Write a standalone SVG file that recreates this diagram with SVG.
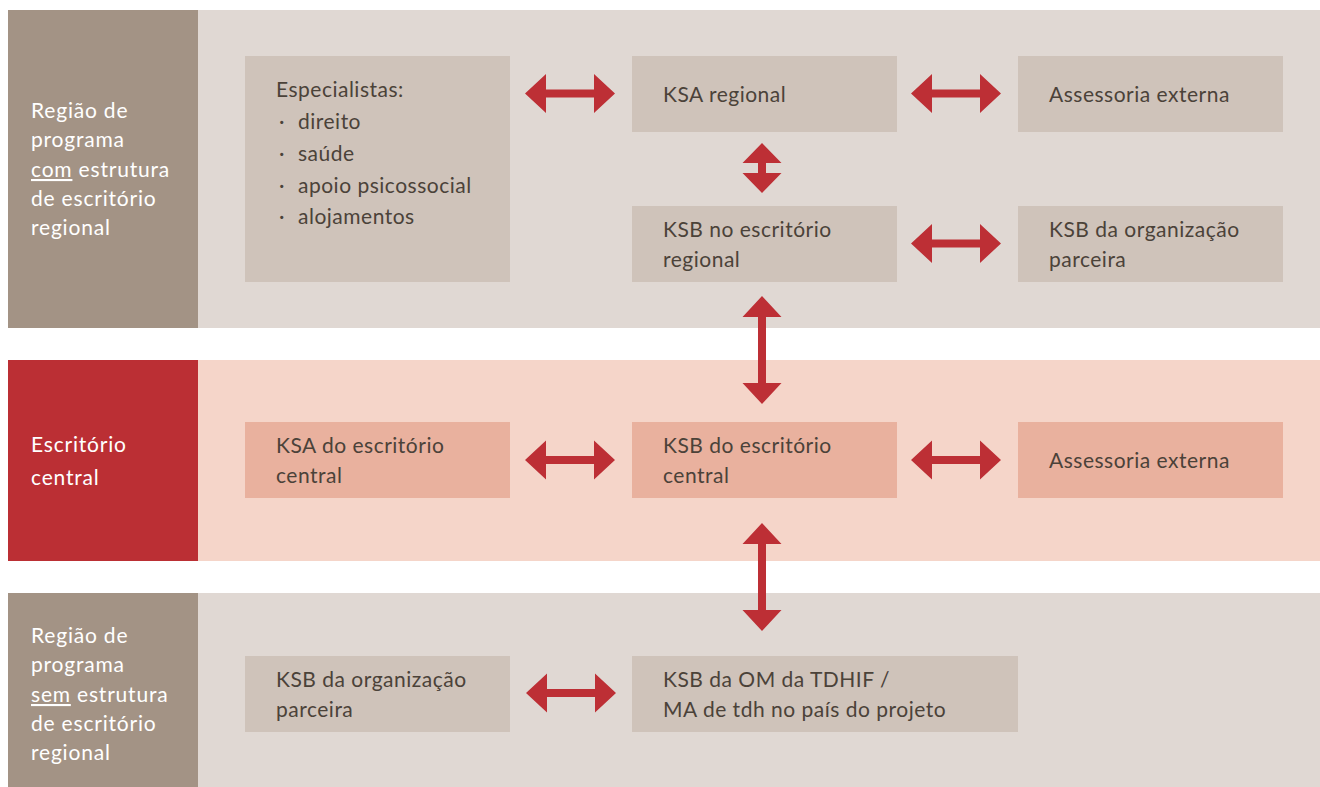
<svg xmlns="http://www.w3.org/2000/svg" width="1320" height="787" viewBox="0 0 1320 787">
<style>
.lab{fill:#a39385}
.band{fill:#e0d8d3}
.box{fill:#cfc3ba}
.clab{fill:#bb2f34}
.cband{fill:#f5d5c9}
.cbox{fill:#e9b19e}
.arr{fill:#bd2f35}
text{font-family:Lato,"Open Sans",sans-serif;font-size:21px;letter-spacing:0.5px}
.t{fill:#4b4239}
.w{fill:#ffffff;letter-spacing:0.8px}
</style>
<defs>
<path id="harr" d="M0,0 L21,-19.5 L21,-4 L69,-4 L69,-19.5 L90,0 L69,19.5 L69,4 L21,4 L21,19.5 Z"/>
</defs>
<rect width="1320" height="787" fill="#ffffff"/>
<g id="band-regional">
<rect class="band" x="198" y="10" width="1122" height="318"/>
<rect class="lab" x="8" y="10" width="190" height="318"/>
<text class="w" x="31" y="118">Região de</text>
<text class="w" x="31" y="147">programa</text>
<text class="w" x="31" y="177"><tspan text-decoration="underline">com</tspan> estrutura</text>
<text class="w" x="31" y="206">de escritório</text>
<text class="w" x="31" y="235">regional</text>
</g>
<g id="band-central">
<rect class="cband" x="198" y="360" width="1122" height="201"/>
<rect class="clab" x="8" y="360" width="190" height="201"/>
<text class="w" x="31" y="452">Escritório</text>
<text class="w" x="31" y="485">central</text>
</g>
<g id="band-sem">
<rect class="band" x="198" y="593" width="1122" height="194"/>
<rect class="lab" x="8" y="593" width="190" height="194"/>
<text class="w" x="31" y="643">Região de</text>
<text class="w" x="31" y="672">programa</text>
<text class="w" x="31" y="702"><tspan text-decoration="underline">sem</tspan> estrutura</text>
<text class="w" x="31" y="731">de escritório</text>
<text class="w" x="31" y="760">regional</text>
</g>
<g id="especialistas">
<rect class="box" x="245" y="56" width="265" height="226"/>
<text class="t" x="276" y="97">Especialistas:</text>
<text class="t" x="279" y="129">·</text><text class="t" x="298" y="129">direito</text>
<text class="t" x="279" y="161">·</text><text class="t" x="298" y="161">saúde</text>
<text class="t" x="279" y="193">·</text><text class="t" x="298" y="193">apoio psicossocial</text>
<text class="t" x="279" y="224">·</text><text class="t" x="298" y="224">alojamentos</text>
</g>
<g id="ksa-regional">
<rect class="box" x="632" y="56" width="265" height="76"/>
<text class="t" x="663" y="102">KSA regional</text>
</g>
<g id="assessoria-regional">
<rect class="box" x="1018" y="56" width="265" height="76"/>
<text class="t" x="1049" y="102">Assessoria externa</text>
</g>
<g id="ksb-regional">
<rect class="box" x="632" y="206" width="265" height="76"/>
<text class="t" x="663" y="237">KSB no escritório</text>
<text class="t" x="663" y="267">regional</text>
</g>
<g id="ksb-parceira-regional">
<rect class="box" x="1018" y="206" width="265" height="76"/>
<text class="t" x="1049" y="237">KSB da organização</text>
<text class="t" x="1049" y="267">parceira</text>
</g>
<g id="ksa-central">
<rect class="cbox" x="245" y="422" width="265" height="76"/>
<text class="t" x="276" y="453">KSA do escritório</text>
<text class="t" x="276" y="483">central</text>
</g>
<g id="ksb-central">
<rect class="cbox" x="632" y="422" width="265" height="76"/>
<text class="t" x="663" y="453">KSB do escritório</text>
<text class="t" x="663" y="483">central</text>
</g>
<g id="assessoria-central">
<rect class="cbox" x="1018" y="422" width="265" height="76"/>
<text class="t" x="1049" y="468">Assessoria externa</text>
</g>
<g id="ksb-parceira-sem">
<rect class="box" x="245" y="656" width="265" height="76"/>
<text class="t" x="276" y="687">KSB da organização</text>
<text class="t" x="276" y="717">parceira</text>
</g>
<g id="ksb-om">
<rect class="box" x="632" y="656" width="386" height="76"/>
<text class="t" x="663" y="687">KSB da OM da TDHIF /</text>
<text class="t" x="663" y="717">MA de tdh no país do projeto</text>
</g>
<g id="connectors" class="arr">
<use href="#harr" transform="translate(525,93.5)"/>
<use href="#harr" transform="translate(911,93.5)"/>
<use href="#harr" transform="translate(911,243.5)"/>
<use href="#harr" transform="translate(525,460)"/>
<use href="#harr" transform="translate(911,460)"/>
<use href="#harr" transform="translate(526,693)"/>
<path d="M762,143 L781.5,163 L766,163 L766,173 L781.5,173 L762,193 L742.5,173 L758,173 L758,163 L742.5,163 Z"/>
<path d="M762,296 L781.5,317 L766,317 L766,383 L781.5,383 L762,404 L742.5,383 L758,383 L758,317 L742.5,317 Z"/>
<path d="M762,523 L781.5,544 L766,544 L766,610 L781.5,610 L762,631 L742.5,610 L758,610 L758,544 L742.5,544 Z"/>
</g>
</svg>
